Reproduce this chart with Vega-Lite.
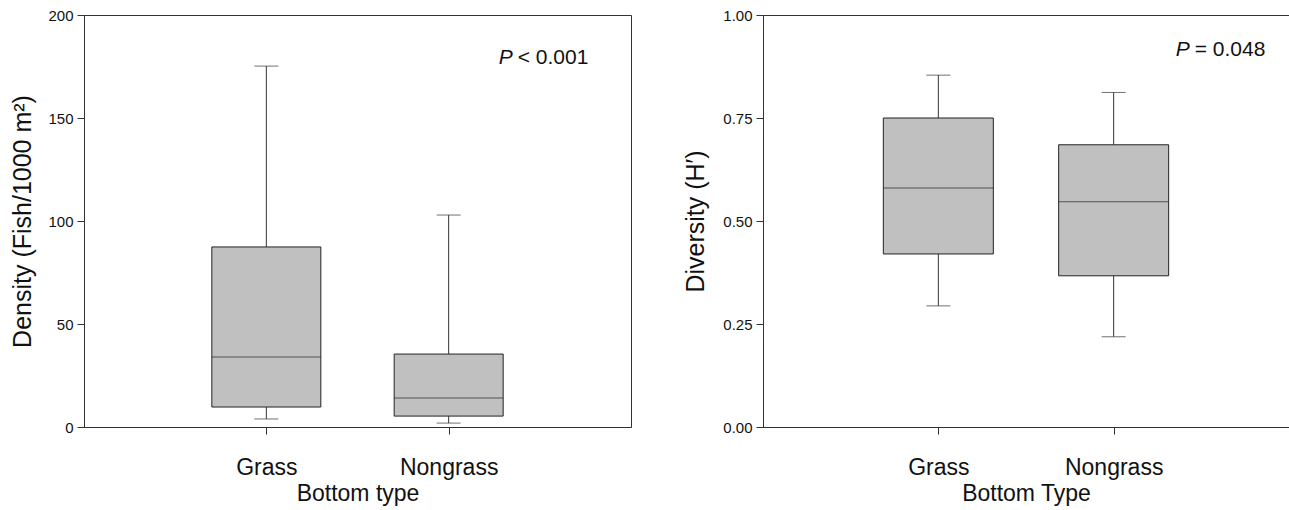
{
  "$schema": "https://vega.github.io/schema/vega-lite/v6.json",
  "padding": {"left": 10, "top": 7, "right": 0, "bottom": 0},
  "spacing": 51,
  "background": "white",
  "config": {
    "font": "Liberation Sans",
    "view": {"stroke": "#333", "strokeWidth": 1},
    "axis": {
      "grid": false,
      "domainColor": "#333",
      "tickColor": "#333",
      "labelColor": "#111",
      "titleColor": "#111",
      "titleFontWeight": "normal",
      "labelFont": "Liberation Sans",
      "titleFont": "Liberation Sans",
      "tickSize": 7
    }
  },
  "datasets": {
    "density": [
      {"type": "Grass", "lo": 3.9, "q1": 9.7, "med": 34.0, "q3": 87.4, "hi": 175.2},
      {"type": "Nongrass", "lo": 1.9, "q1": 5.3, "med": 14.1, "q3": 35.4, "hi": 102.9}
    ],
    "diversity": [
      {"type": "Grass", "lo": 0.294, "q1": 0.42, "med": 0.58, "q3": 0.75, "hi": 0.854},
      {"type": "Nongrass", "lo": 0.219, "q1": 0.367, "med": 0.547, "q3": 0.685, "hi": 0.812}
    ],
    "pleft": [{"p": "P", "rest": "< 0.001"}],
    "pright": [{"p": "P", "rest": "= 0.048"}]
  },
  "hconcat": [
    {
      "width": 547,
      "height": 412,
      "encoding": {
        "x": {
          "field": "type", "type": "nominal",
          "scale": {"type": "point", "padding": 1},
          "axis": {"title": "Bottom type", "labelAngle": 0, "labelFontSize": 23, "titleFontSize": 23, "labelPadding": 22, "titlePadding": 3}
        }
      },
      "layer": [
        {
          "data": {"name": "density"},
          "mark": {"type": "rule", "color": "#333", "strokeWidth": 1},
          "encoding": {
            "y": {"field": "lo", "type": "quantitative", "scale": {"domain": [0, 200]},
              "axis": {"values": [0, 50, 100, 150, 200], "title": "Density (Fish/1000 m²)", "titleFontSize": 25, "labelFontSize": 15, "labelPadding": 4, "titlePadding": 12}},
            "y2": {"field": "q1"}
          }
        },
        {
          "data": {"name": "density"},
          "mark": {"type": "rule", "color": "#333", "strokeWidth": 1},
          "encoding": {"y": {"field": "q3", "type": "quantitative"}, "y2": {"field": "hi"}}
        },
        {
          "data": {"name": "density"},
          "mark": {"type": "tick", "color": "#333", "size": 24, "thickness": 1},
          "encoding": {"y": {"field": "lo", "type": "quantitative"}}
        },
        {
          "data": {"name": "density"},
          "mark": {"type": "tick", "color": "#333", "size": 24, "thickness": 1},
          "encoding": {"y": {"field": "hi", "type": "quantitative"}}
        },
        {
          "data": {"name": "density"},
          "mark": {"type": "bar", "size": 109, "fill": "#c0c0c0", "stroke": "#222", "strokeWidth": 1},
          "encoding": {"y": {"field": "q1", "type": "quantitative"}, "y2": {"field": "q3"}}
        },
        {
          "data": {"name": "density"},
          "mark": {"type": "tick", "color": "#222", "size": 109, "thickness": 1},
          "encoding": {"y": {"field": "med", "type": "quantitative"}}
        },
        {
          "data": {"name": "pleft"},
          "mark": {"type": "text", "font": "Liberation Sans", "fontSize": 21, "fontStyle": "italic", "align": "right", "baseline": "middle", "dx": 64, "color": "#111"},
          "encoding": {"x": {"datum": "Nongrass", "type": "nominal"}, "y": {"datum": 179, "type": "quantitative"}, "text": {"field": "p"}}
        },
        {
          "data": {"name": "pleft"},
          "mark": {"type": "text", "font": "Liberation Sans", "fontSize": 21, "align": "left", "baseline": "middle", "dx": 69, "color": "#111"},
          "encoding": {"x": {"datum": "Nongrass", "type": "nominal"}, "y": {"datum": 179, "type": "quantitative"}, "text": {"field": "rest"}}
        }
      ]
    },
    {
      "width": 526,
      "height": 412,
      "encoding": {
        "x": {
          "field": "type", "type": "nominal",
          "scale": {"type": "point", "padding": 1},
          "axis": {"title": "Bottom Type", "labelAngle": 0, "labelFontSize": 23, "titleFontSize": 23, "labelPadding": 22, "titlePadding": 3}
        }
      },
      "layer": [
        {
          "data": {"name": "diversity"},
          "mark": {"type": "rule", "color": "#333", "strokeWidth": 1},
          "encoding": {
            "y": {"field": "lo", "type": "quantitative", "scale": {"domain": [0, 1]},
              "axis": {"values": [0, 0.25, 0.5, 0.75, 1], "format": ".2f", "title": "Diversity (H′)", "titleFontSize": 25, "labelFontSize": 15, "labelPadding": 4, "titlePadding": 14}},
            "y2": {"field": "q1"}
          }
        },
        {
          "data": {"name": "diversity"},
          "mark": {"type": "rule", "color": "#333", "strokeWidth": 1},
          "encoding": {"y": {"field": "q3", "type": "quantitative"}, "y2": {"field": "hi"}}
        },
        {
          "data": {"name": "diversity"},
          "mark": {"type": "tick", "color": "#333", "size": 24, "thickness": 1},
          "encoding": {"y": {"field": "lo", "type": "quantitative"}}
        },
        {
          "data": {"name": "diversity"},
          "mark": {"type": "tick", "color": "#333", "size": 24, "thickness": 1},
          "encoding": {"y": {"field": "hi", "type": "quantitative"}}
        },
        {
          "data": {"name": "diversity"},
          "mark": {"type": "bar", "size": 110, "fill": "#c0c0c0", "stroke": "#222", "strokeWidth": 1},
          "encoding": {"y": {"field": "q1", "type": "quantitative"}, "y2": {"field": "q3"}}
        },
        {
          "data": {"name": "diversity"},
          "mark": {"type": "tick", "color": "#222", "size": 110, "thickness": 1},
          "encoding": {"y": {"field": "med", "type": "quantitative"}}
        },
        {
          "data": {"name": "pright"},
          "mark": {"type": "text", "font": "Liberation Sans", "fontSize": 21, "fontStyle": "italic", "align": "right", "baseline": "middle", "dx": 76, "color": "#111"},
          "encoding": {"x": {"datum": "Nongrass", "type": "nominal"}, "y": {"datum": 0.915, "type": "quantitative"}, "text": {"field": "p"}}
        },
        {
          "data": {"name": "pright"},
          "mark": {"type": "text", "font": "Liberation Sans", "fontSize": 21, "align": "left", "baseline": "middle", "dx": 81, "color": "#111"},
          "encoding": {"x": {"datum": "Nongrass", "type": "nominal"}, "y": {"datum": 0.915, "type": "quantitative"}, "text": {"field": "rest"}}
        }
      ]
    }
  ]
}
